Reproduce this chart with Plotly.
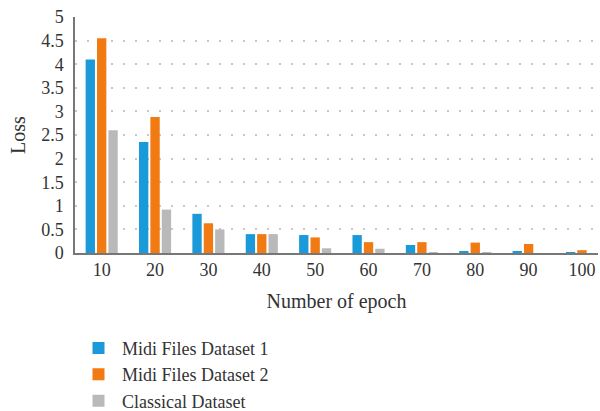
import plotly.graph_objects as go

epochs = ["10", "20", "30", "40", "50", "60", "70", "80", "90", "100"]
midi1 = [4.1, 2.35, 0.83, 0.4, 0.38, 0.38, 0.17, 0.04, 0.04, 0.02]
midi2 = [4.55, 2.88, 0.63, 0.4, 0.33, 0.23, 0.23, 0.22, 0.19, 0.06]
classical = [2.6, 0.92, 0.5, 0.4, 0.1, 0.09, 0.01, 0.01, 0.0, 0.0]

names = ["Midi Files Dataset 1", "Midi Files Dataset 2", "Classical Dataset"]
colors = ["#1b9ad9", "#f27a12", "#b9b9b9"]

fig = go.Figure()
for n, vals, c in zip(names, [midi1, midi2, classical], colors):
    fig.add_trace(go.Bar(x=epochs, y=vals, name=n, marker_color=c, marker_line_width=0))

font = "Liberation Serif, Times New Roman, serif"
fig.update_layout(
    width=600, height=411,
    margin=dict(l=75, r=2, t=17, b=158, autoexpand=False),
    paper_bgcolor="white", plot_bgcolor="white",
    barmode="group", bargap=0.36, bargroupgap=0.18,
    font=dict(family=font, size=18, color="#333333"),
    showlegend=True,
    legend=dict(orientation="v", x=0.0, xanchor="left", y=-0.325, yanchor="top",
                font=dict(family=font, size=18, color="#333333"),
                tracegroupgap=0, itemwidth=37),
)
fig.update_xaxes(type="category", range=[-0.5, 9.3], showline=True, linecolor="#777777",
                 linewidth=1.5, ticks="", showgrid=False, automargin=False,
                 title=dict(text="Number of epoch", standoff=15, font=dict(size=20)),
                 tickfont=dict(size=18))
fig.update_yaxes(range=[0, 5], dtick=0.5, showline=True, linecolor="#777777", linewidth=1.5,
                 ticks="", showgrid=True, gridcolor="#c8c8c8", gridwidth=2, griddash="2px,10px",
                 zeroline=False, tickformat="~g", automargin=False, ticklabelstandoff=6,
                 title=dict(text="Loss", standoff=10, font=dict(size=20)),
                 tickfont=dict(size=18))

fig.write_html("out.html", post_script="document.body.style.margin='0';",
               config={"displayModeBar": False})
